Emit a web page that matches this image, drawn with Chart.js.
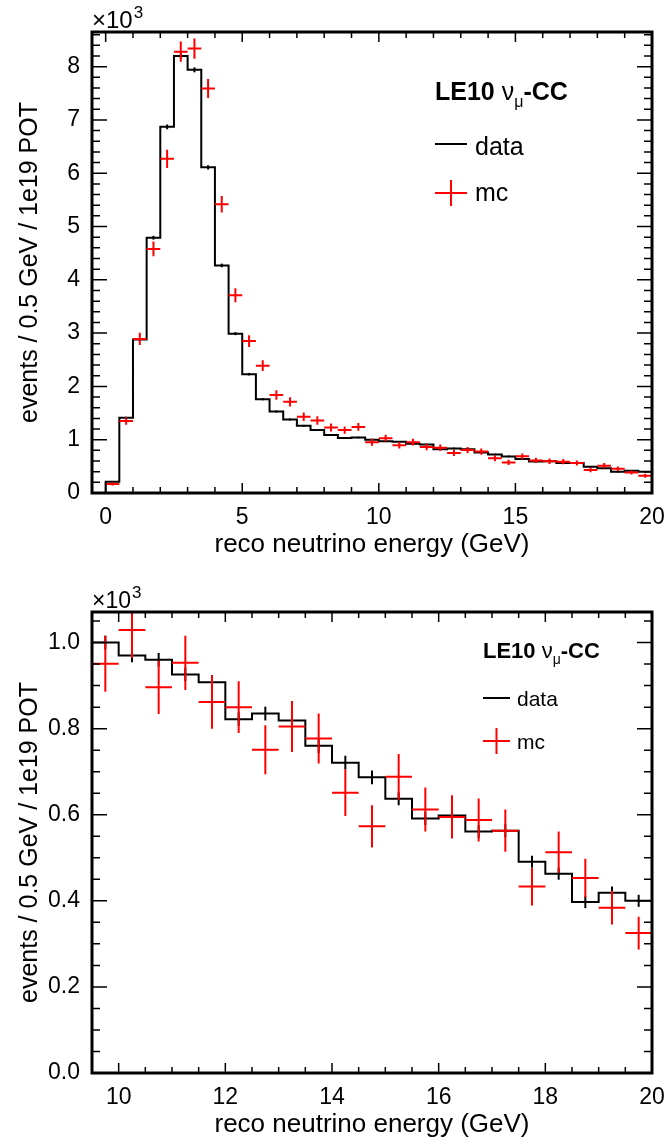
<!DOCTYPE html>
<html>
<head>
<meta charset="utf-8">
<script src="https://cdn.jsdelivr.net/npm/chart.js@4.4.1/dist/chart.umd.min.js"></script>
<style>
  html, body { margin: 0; padding: 0; background: #fff; }
  #wrap { position: relative; width: 665px; height: 1146px; }
  #topChart { position: absolute; left: 0; top: 0; }
  #botChart { position: absolute; left: 0; top: 580px; }
</style>
</head>
<body>
<div id="wrap">
  <canvas id="topChart" width="665" height="580"></canvas>
  <canvas id="botChart" width="665" height="566"></canvas>
</div>
<script>
// LE10 numu-CC reco energy spectrum, data vs mc, drawn twice (full range + tail zoom)

// binning: 40 bins of 0.5 GeV starting at 0
const binStart = 0;
const binWidth = 0.5;

// data histogram, events / 0.5 GeV / 1e19 POT (x10^3)
const dataValues = [
    0.21, 1.41, 2.88, 4.79, 6.87, 8.20, 7.94, 6.11, 4.27, 2.99,
    2.23, 1.76, 1.53, 1.38, 1.26, 1.18, 1.09, 1.03, 1.04, 1.00,
    0.970, 0.960, 0.926, 0.908, 0.822, 0.835, 0.819, 0.760, 0.721, 0.687,
    0.637, 0.591, 0.598, 0.561, 0.563, 0.491, 0.463, 0.397, 0.419, 0.400
];
const dataErrors = [
    0.010, 0.020, 0.028, 0.036, 0.045, 0.048, 0.047, 0.040, 0.034, 0.028,
    0.024, 0.021, 0.020, 0.019, 0.018, 0.017, 0.017, 0.016, 0.016, 0.016,
    0.016, 0.016, 0.016, 0.016, 0.016, 0.016, 0.016, 0.017, 0.016, 0.016,
    0.015, 0.015, 0.015, 0.015, 0.015, 0.014, 0.014, 0.014, 0.014, 0.014
];

// mc points (x10^3)
const mcValues = [
    0.17, 1.35, 2.89, 4.58, 6.27, 8.28, 8.34, 7.59, 5.42, 3.71,
    2.85, 2.39, 1.84, 1.71, 1.43, 1.36, 1.23, 1.18, 1.24, 0.951,
    1.029, 0.896, 0.953, 0.862, 0.850, 0.751, 0.805, 0.777, 0.651, 0.573,
    0.688, 0.612, 0.595, 0.588, 0.563, 0.433, 0.513, 0.453, 0.384, 0.325
];
const mcErrors = [
    0.030, 0.070, 0.115, 0.140, 0.170, 0.190, 0.190, 0.180, 0.155, 0.130,
    0.110, 0.100, 0.090, 0.088, 0.080, 0.078, 0.075, 0.070, 0.072, 0.065,
    0.065, 0.062, 0.063, 0.062, 0.060, 0.057, 0.059, 0.058, 0.054, 0.049,
    0.053, 0.051, 0.050, 0.050, 0.049, 0.044, 0.048, 0.045, 0.039, 0.038
];

// tick labels
const topXTicks = [0, 5, 10, 15, 20];
const topYTicks = [0, 1, 2, 3, 4, 5, 6, 7, 8];
const botXTicks = [10, 12, 14, 16, 18, 20];
const botYTicks = [0, 0.2, 0.4, 0.6, 0.8, 1.0];

const FONT = '"Liberation Sans", Arial, Helvetica, sans-serif';
const RED = '#ff0000';

// histogram outline points: start on the baseline, then the upper edge of each bin
function histPoints() {
    const pts = [{ x: binStart, y: 0 }];
    dataValues.forEach((v, i) => pts.push({ x: binStart + (i + 1) * binWidth, y: v }));
    return pts;
}

function minorList(min, max, step, majors) {
    const out = [];
    const n = Math.round((max - min) / step);
    for (let k = 0; k <= n; k++) {
        const v = +(Math.ceil(min / step) * step + k * step).toFixed(5);
        if (v < min || v > max) continue;
        if (majors.some(m => Math.abs(m - v) < 1e-6)) continue;
        out.push(v);
    }
    return out;
}

/**
 * ROOT style frame: inward ticks on all sides, error bars, crosses, legend, exponent
 */
function rootPlugin(cfg) {
    return {
        id: 'rootStyle',
        afterDatasetsDraw(chart) {
            const { ctx, chartArea: a, scales: { x, y } } = chart;
            ctx.save();
            ctx.beginPath();
            ctx.rect(a.left, a.top, a.right - a.left, a.bottom - a.top);
            ctx.clip();

            // data error bars
            ctx.strokeStyle = '#000';
            ctx.lineWidth = 2;
            dataValues.forEach((v, i) => {
                const xc = x.getPixelForValue(binStart + (i + 0.5) * binWidth);
                ctx.beginPath();
                ctx.moveTo(xc, y.getPixelForValue(v - dataErrors[i]));
                ctx.lineTo(xc, y.getPixelForValue(v + dataErrors[i]));
                ctx.stroke();
            });

            // mc crosses: bin width horizontally, error vertically
            ctx.strokeStyle = RED;
            ctx.lineWidth = 2;
            mcValues.forEach((v, i) => {
                const lo = binStart + i * binWidth;
                const xc = x.getPixelForValue(lo + binWidth / 2);
                const yc = y.getPixelForValue(v);
                ctx.beginPath();
                ctx.moveTo(x.getPixelForValue(lo), yc);
                ctx.lineTo(x.getPixelForValue(lo + binWidth), yc);
                ctx.moveTo(xc, y.getPixelForValue(v - mcErrors[i]));
                ctx.lineTo(xc, y.getPixelForValue(v + mcErrors[i]));
                ctx.stroke();
            });
            ctx.restore();
        },
        afterDraw(chart) {
            const { ctx, chartArea: a, scales: { x, y } } = chart;
            ctx.save();
            ctx.strokeStyle = '#000';

            // ticks
            ctx.lineWidth = 1.5;
            const xMinor = minorList(cfg.xMin, cfg.xMax, cfg.xMinorStep, cfg.xTicks);
            const yMinor = minorList(0, cfg.yMax, cfg.yMinorStep, cfg.yTicks);
            ctx.beginPath();
            cfg.xTicks.concat(xMinor).forEach(v => {
                const len = cfg.xTicks.includes(v) ? 10 : 6;
                const px = x.getPixelForValue(v);
                ctx.moveTo(px, a.bottom); ctx.lineTo(px, a.bottom - len);
                ctx.moveTo(px, a.top); ctx.lineTo(px, a.top + len);
            });
            cfg.yTicks.concat(yMinor).forEach(v => {
                const len = cfg.yTicks.includes(v) ? 15 : 8;
                const py = y.getPixelForValue(v);
                ctx.moveTo(a.left, py); ctx.lineTo(a.left + len, py);
                ctx.moveTo(a.right, py); ctx.lineTo(a.right - len, py);
            });
            ctx.stroke();

            // frame
            ctx.lineWidth = 3;
            ctx.strokeRect(a.left, a.top, a.right - a.left, a.bottom - a.top);

            // exponent label
            ctx.fillStyle = '#000';
            ctx.textAlign = 'left';
            ctx.textBaseline = 'alphabetic';
            ctx.font = cfg.expoSize + 'px ' + FONT;
            ctx.fillText('\u00d710', a.left, 28);
            const w = ctx.measureText('\u00d710').width;
            ctx.font = cfg.supSize + 'px ' + FONT;
            ctx.fillText('3', a.left + w + 1, 18);

            // legend
            const L = cfg.legend;
            let tx = L.x;
            const bold = 'bold ' + L.titleSize + 'px ' + FONT;
            ctx.font = bold;
            ctx.fillText('LE10 ', tx, L.titleY);
            tx += ctx.measureText('LE10 ').width;
            ctx.font = L.titleSize + 'px ' + FONT;
            ctx.fillText('\u03bd', tx, L.titleY);
            tx += ctx.measureText('\u03bd').width;
            ctx.font = Math.round(L.titleSize * 0.65) + 'px ' + FONT;
            ctx.fillText('\u03bc', tx, L.titleY + L.titleSize * 0.28);
            tx += ctx.measureText('\u03bc').width;
            ctx.font = bold;
            ctx.fillText('-CC', tx, L.titleY);

            ctx.lineWidth = 2;
            ctx.strokeStyle = '#000';
            ctx.beginPath();
            ctx.moveTo(L.x, L.lineY); ctx.lineTo(L.x + L.sampleW, L.lineY);
            ctx.stroke();
            ctx.strokeStyle = RED;
            ctx.beginPath();
            ctx.moveTo(L.x, L.crossY); ctx.lineTo(L.x + L.sampleW, L.crossY);
            ctx.moveTo(L.x + L.sampleW / 2, L.crossY - 13); ctx.lineTo(L.x + L.sampleW / 2, L.crossY + 13);
            ctx.stroke();

            ctx.font = L.textSize + 'px ' + FONT;
            ctx.fillText('data', L.textX, L.dataBase);
            ctx.fillText('mc', L.textX, L.mcBase);
            ctx.restore();
        }
    };
}

function makePanel(canvasId, cfg) {
    const canvas = document.getElementById(canvasId);
    return new Chart(canvas, {
        type: 'line',
        data: {
            datasets: [{
                label: 'data',
                data: histPoints(),
                borderColor: '#000',
                borderWidth: 2,
                pointRadius: 0,
                stepped: 'after',
                fill: false
            }]
        },
        options: {
            responsive: false,
            animation: false,
            events: [],
            layout: { padding: { top: 32, right: 13, left: 0, bottom: 0 } },
            plugins: { legend: { display: false }, tooltip: { enabled: false } },
            scales: {
                x: {
                    type: 'linear',
                    min: cfg.xMin,
                    max: cfg.xMax,
                    grid: { display: false, drawTicks: false },
                    border: { display: false },
                    afterBuildTicks: s => { s.ticks = cfg.xTicks.map(v => ({ value: v })); },
                    afterFit: s => { s.height = cfg.H - 493; s.paddingLeft = 0; s.paddingRight = 0; },
                    ticks: {
                        font: { family: FONT, size: 23 },
                        color: '#000',
                        padding: 11,
                        maxRotation: 0,
                        autoSkip: false,
                        callback: v => String(v)
                    },
                    title: {
                        display: true,
                        text: 'reco neutrino energy (GeV)',
                        font: { family: FONT, size: 26 },
                        color: '#000',
                        padding: { top: 0, bottom: cfg.H - 545 - 15.6 }
                    }
                },
                y: {
                    type: 'linear',
                    min: 0,
                    max: cfg.yMax,
                    grid: { display: false, drawTicks: false },
                    border: { display: false },
                    afterBuildTicks: s => { s.ticks = cfg.yTicks.map(v => ({ value: v })); },
                    afterFit: s => { s.width = 92; s.paddingTop = 0; s.paddingBottom = 0; },
                    ticks: {
                        font: { family: FONT, size: 23 },
                        color: '#000',
                        padding: 12,
                        callback: v => cfg.yFmt(v)
                    },
                    title: {
                        display: true,
                        text: 'events / 0.5 GeV / 1e19 POT',
                        font: { family: FONT, size: 25 },
                        color: '#000',
                        padding: { top: 15, bottom: 0 }
                    }
                }
            }
        },
        plugins: [rootPlugin(cfg)]
    });
}

makePanel('topChart', {
    H: 580, xMin: -0.5, xMax: 20, yMax: 8.65,
    xTicks: topXTicks, xMinorStep: 1,
    yTicks: topYTicks, yMinorStep: 0.2,
    yFmt: v => String(v),
    expoSize: 24, supSize: 17,
    legend: { x: 435, titleY: 100, titleSize: 25, textSize: 25, lineY: 144, crossY: 193,
              sampleW: 32, textX: 475, dataBase: 155, mcBase: 201 }
});

makePanel('botChart', {
    H: 566, xMin: 9.5, xMax: 20, yMax: 1.071,
    xTicks: botXTicks, xMinorStep: 0.5,
    yTicks: botYTicks, yMinorStep: 0.05,
    yFmt: v => v.toFixed(1),
    expoSize: 23, supSize: 17,
    legend: { x: 483, titleY: 78, titleSize: 22, textSize: 21, lineY: 118, crossY: 161,
              sampleW: 27, textX: 517, dataBase: 126, mcBase: 169 }
});
</script>
</body>
</html>
